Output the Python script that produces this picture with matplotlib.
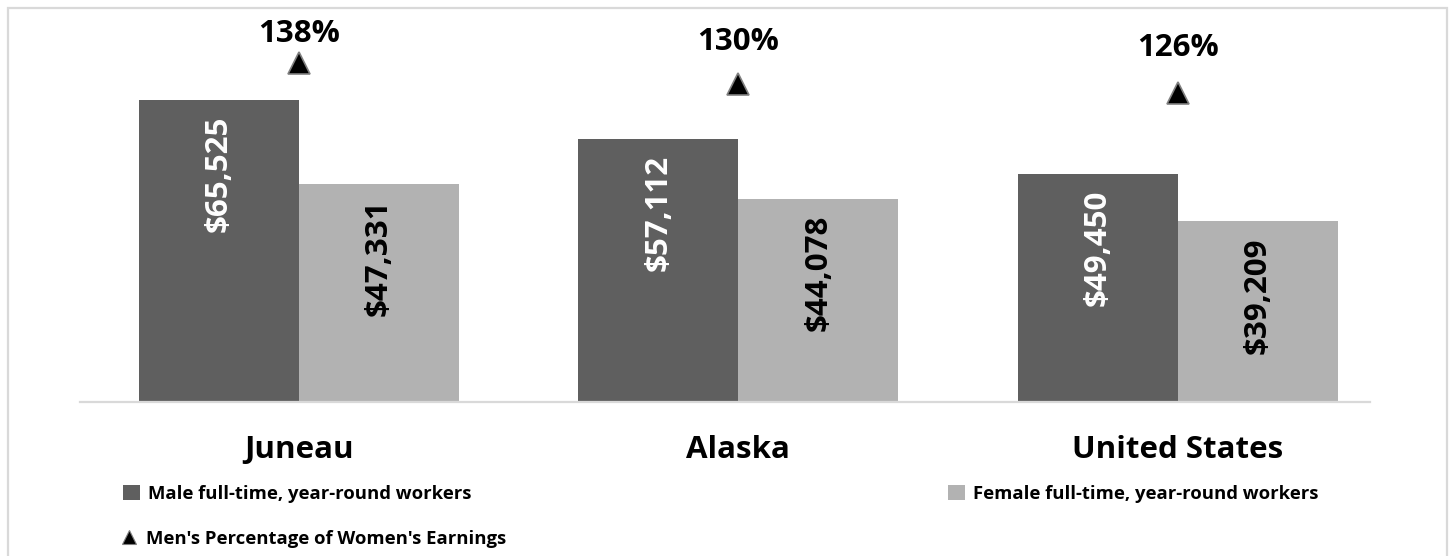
import matplotlib
matplotlib.use("Agg")
import matplotlib.pyplot as plt
import numpy as np
from matplotlib.patches import Rectangle, Patch
from matplotlib.lines import Line2D

# ---- data ----
categories = ["Juneau", "Alaska", "United States"]
male_earnings = [65525, 57112, 49450]
female_earnings = [47331, 44078, 39209]
male_labels = ["$65,525", "$57,112", "$49,450"]
female_labels = ["$47,331", "$44,078", "$39,209"]
pct_values = [138.4, 129.6, 126.1]
pct_labels = ["138%", "130%", "126%"]
series_names = ["Male full-time, year-round workers",
                "Female full-time, year-round workers",
                "Men's Percentage of Women's Earnings"]

# ---- style ----
FONT = "Open Sans"
MALE_C = "#5f5f5f"
FEMALE_C = "#b2b2b2"
GRID_C = "#d9d9d9"
W, H = 1453, 556
DPI = 100
BIG = 22.5

plt.rcParams['font.family'] = [FONT, 'DejaVu Sans']
plt.rcParams['font.weight'] = 'bold'

fig = plt.figure(figsize=(W / DPI, H / DPI), dpi=DPI)

def fx(px):
    return px / W

def fy(py):
    return 1 - py / H

ax_left, ax_right, ax_top, ax_bottom = 80, 1370, 10, 402
ax = fig.add_axes([fx(ax_left), fy(ax_bottom), fx(ax_right - ax_left), (ax_bottom - ax_top) / H])
ax2 = ax.twinx()

x = np.arange(len(categories))
bw = 0.364
ax.bar(x - bw / 2, male_earnings, width=bw, color=MALE_C, linewidth=0, zorder=2)
ax.bar(x + bw / 2, female_earnings, width=bw, color=FEMALE_C, linewidth=0, zorder=2)

ax.set_xlim(-0.498, 2.437)
ax.set_ylim(0, 85052)
ax2.set_ylim(0, 160)

for spine in ["top", "left", "right"]:
    ax.spines[spine].set_visible(False)
    ax2.spines[spine].set_visible(False)
ax2.spines["bottom"].set_visible(False)
ax.spines["bottom"].set_color(GRID_C)
ax.spines["bottom"].set_linewidth(1.6)
ax.set_yticks([])
ax2.set_yticks([])
ax.set_xticks(x)
ax.set_xticklabels(categories, fontsize=BIG, fontweight='bold', color='black')
ax.tick_params(axis='x', length=0, pad=24)

# bar value labels (rotated, inside end)
for xi, v, lab in zip(x - bw / 2, male_earnings, male_labels):
    ax.annotate(lab, (xi, v), xytext=(0, -16), textcoords='offset pixels',
                rotation=90, ha='center', va='top', color='white',
                fontsize=BIG, fontweight='bold', zorder=3)
for xi, v, lab in zip(x + bw / 2, female_earnings, female_labels):
    ax.annotate(lab, (xi, v), xytext=(0, -16), textcoords='offset pixels',
                rotation=90, ha='center', va='top', color='black',
                fontsize=BIG, fontweight='bold', zorder=3)

# percentage markers
ax2.plot(x, pct_values, linestyle='none', marker='^', markersize=16,
         markerfacecolor='black', markeredgecolor='#808080', markeredgewidth=1.2, zorder=4)
label_offsets_px = [29, 42, 45]
for xi, v, lab, off in zip(x, pct_values, pct_labels, label_offsets_px):
    ax2.annotate(lab, (xi, v), xytext=(0, off), textcoords='offset pixels',
                 ha='center', va='center', fontsize=BIG, fontweight='bold', color='black')

# legends
leg_fs = 13.3
male_h = Patch(facecolor=MALE_C, edgecolor='none')
female_h = Patch(facecolor=FEMALE_C, edgecolor='none')
tri_h = Line2D([], [], linestyle='none', marker='^', markersize=9.5,
               markerfacecolor='black', markeredgecolor='#808080', markeredgewidth=0.8)
common = dict(frameon=False, loc='center left', borderpad=0,
              borderaxespad=0, handlelength=0.9, handleheight=0.9, handletextpad=0.45,
              prop={'family': [FONT, 'DejaVu Sans'], 'weight': 'bold', 'size': leg_fs})
fig.legend([male_h], [series_names[0]], bbox_to_anchor=(fx(123), fy(494)), **common)
fig.legend([female_h], [series_names[1]], bbox_to_anchor=(fx(948), fy(494)), **common)
fig.legend([tri_h], [series_names[2]], bbox_to_anchor=(fx(121), fy(539)), **common)

# outer frame
fig.patches.append(Rectangle((fx(7.5), fy(H + 20)), fx(1447 - 7.5), (H + 20 - 7.5) / H,
                             transform=fig.transFigure, fill=False,
                             edgecolor=GRID_C, linewidth=1.6))

fig.savefig("out.png", dpi=DPI)
